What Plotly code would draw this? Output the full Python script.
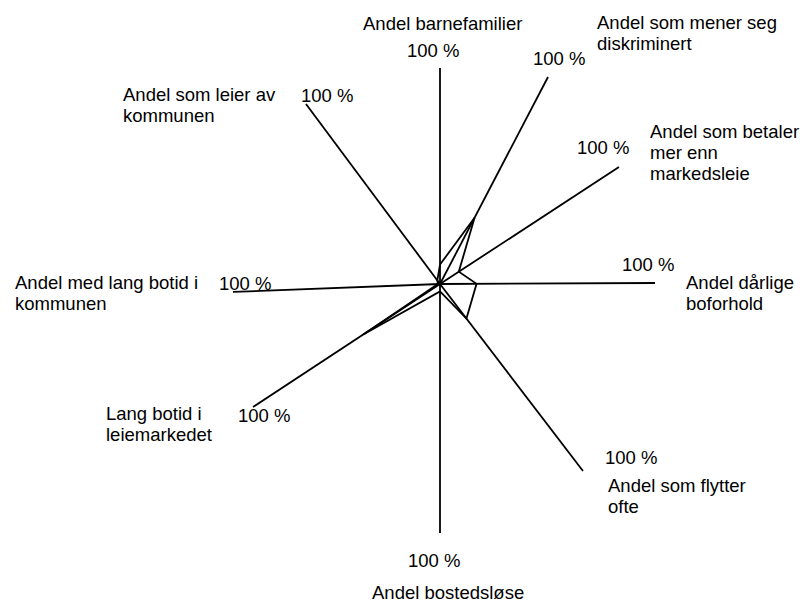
import math
import plotly.graph_objects as go

# ---- data ----
categories = [
    "Andel barnefamilier",
    "Andel som mener seg diskriminert",
    "Andel som betaler mer enn markedsleie",
    "Andel dårlige boforhold",
    "Andel som flytter ofte",
    "Andel bostedsløse",
    "Lang botid i leiemarkedet",
    "Andel med lang botid i kommunen",
    "Andel som leier av kommunen",
]
values = [9, 32, 10.5, 17, 18.5, 3, 41, 1, 2]  # percent
axis_max = 100
max_tick_label = "100 %"

# ---- geometry / style of the (distorted) radar layout ----
center = (440, 284)
spoke_angle = [90, 62.45, 33.17, 0.27, -52.6, -90, 213.34, 182.2, 126.67]
spoke_len = [216, 233.5, 213.8, 215, 235.4, 249, 223.8, 207.2, 224.4]

# category label lines: (lines, x, first-line y, anchor)
label_layout = [
    (["Andel barnefamilier"], 442.5, 23, "center"),
    (["Andel som mener seg", "diskriminert"], 595, 22.5, "left"),
    (["Andel som betaler", "mer enn", "markedsleie"], 648, 131, "left"),
    (["Andel dårlige", "boforhold"], 684, 282, "left"),
    (["Andel som flytter", "ofte"], 605.5, 485, "left"),
    (["Andel bostedsløse"], 448, 592, "center"),
    (["Lang botid i", "leiemarkedet"], 104, 413, "left"),
    (["Andel med lang botid i", "kommunen"], 13, 282, "left"),
    (["Andel som leier av", "kommunen"], 121, 94, "left"),
]
tick_pos = [(433, 50), (558.5, 58.5), (603, 147.5), (648, 264), (631, 457),
            (433.5, 560), (264, 415.5), (245, 283), (326.5, 95)]
line_pitch = 21
FONT = dict(family="Arial, Liberation Sans, sans-serif", size=18.5, color="#000000")


def point(i, frac):
    a = math.radians(spoke_angle[i])
    return (center[0] + frac * spoke_len[i] * math.cos(a),
            center[1] - frac * spoke_len[i] * math.sin(a))


fig = go.Figure()

# spokes
sx, sy = [], []
for i in range(len(categories)):
    ex, ey = point(i, 1.0)
    sx += [center[0], ex, None]
    sy += [center[1], ey, None]
fig.add_trace(go.Scatter(x=sx, y=sy, mode="lines",
                         line=dict(color="black", width=1.8),
                         hoverinfo="skip", showlegend=False))

# data polygon
px, py = [], []
for i, v in enumerate(values):
    x, y = point(i, v / axis_max)
    px.append(x)
    py.append(y)
px.append(px[0])
py.append(py[0])
fig.add_trace(go.Scatter(x=px, y=py, mode="lines",
                         line=dict(color="black", width=1.8),
                         text=categories + [categories[0]],
                         hovertemplate="%{text}<extra></extra>",
                         showlegend=False))

annotations = []
for lines, x, y0, anchor in label_layout:
    for k, ln in enumerate(lines):
        annotations.append(dict(x=x, y=y0 + k * line_pitch, text=ln, showarrow=False,
                                xref="x", yref="y", xanchor=anchor, yanchor="middle",
                                font=FONT))
for (x, y) in tick_pos:
    annotations.append(dict(x=x, y=y, text=max_tick_label, showarrow=False,
                            xref="x", yref="y", xanchor="center", yanchor="middle",
                            font=FONT))

fig.update_layout(
    width=800, height=603,
    margin=dict(l=0, r=0, t=0, b=0),
    paper_bgcolor="white", plot_bgcolor="white",
    xaxis=dict(range=[0, 800], visible=False, fixedrange=True),
    yaxis=dict(range=[603, 0], visible=False, fixedrange=True),
    annotations=annotations,
    showlegend=False,
)

fig.write_html("out.html",
               config={"displayModeBar": False},
               post_script="document.body.style.margin='0';document.body.style.overflow='hidden';")
